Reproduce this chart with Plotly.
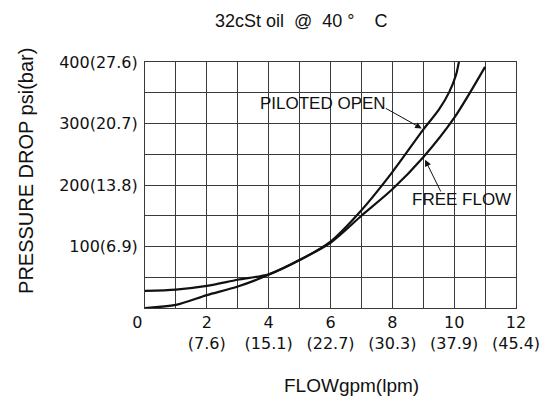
import plotly.graph_objects as go

# Data (flow in gpm, pressure drop in psi)
free_x = [0, 1, 2, 3, 4, 5, 6, 7, 8, 9, 10, 11]
free_y = [0, 5, 21, 35, 54, 78, 106, 150, 193, 245, 309, 392]
pilot_x = [0, 1, 2, 3, 4, 5, 6, 7, 8, 9, 9.5, 9.84, 10.06, 10.16]
pilot_y = [28, 30, 36, 46, 55, 78, 108, 159, 221, 290, 322, 351, 379, 402]

x_tickvals = list(range(0, 13))
x_ticktext = ["0\u00a0\u00a0\u00a0", "", "2<br>(7.6)", "", "4<br>(15.1)", "", "6<br>(22.7)", "",
              "8<br>(30.3)", "", "10<br>(37.9)", "", "12<br>(45.4)"]
y_tickvals = [0, 50, 100, 150, 200, 250, 300, 350, 400]
y_ticktext = ["", "", "100(6.9)", "", "200(13.8)", "", "300(20.7)", "", "400(27.6)"]

INK = "#111"
fig = go.Figure()
fig.add_trace(go.Scatter(x=free_x, y=free_y, mode="lines",
                         line=dict(color=INK, width=2.2, shape="spline", smoothing=0.8),
                         name="FREE FLOW", showlegend=False, cliponaxis=True))
fig.add_trace(go.Scatter(x=pilot_x, y=pilot_y, mode="lines",
                         line=dict(color=INK, width=2.2, shape="spline", smoothing=0.8),
                         name="PILOTED OPEN", showlegend=False, cliponaxis=True))

label_font = dict(family="Liberation Sans", size=17, color=INK)
# labels
fig.add_annotation(x=3.655, y=333, xref="x", yref="y", text="PILOTED OPEN", showarrow=False,
                   xanchor="left", yanchor="middle", font=label_font)
fig.add_annotation(x=8.57, y=176, xref="x", yref="y", text="FREE FLOW", showarrow=False,
                   xanchor="left", yanchor="middle", font=label_font)
# leader arrows
fig.add_annotation(x=8.95, y=292, ax=7.74, ay=326, xref="x", yref="y", axref="x", ayref="y",
                   text="", showarrow=True, arrowhead=2, arrowsize=1.3, arrowwidth=1,
                   arrowcolor=INK, standoff=0)
fig.add_annotation(x=9.06, y=241, ax=9.59, ay=187, xref="x", yref="y", axref="x", ayref="y",
                   text="", showarrow=True, arrowhead=2, arrowsize=1.3, arrowwidth=1,
                   arrowcolor=INK, standoff=0)

# axis titles as positioned text
fig.add_annotation(x=0.369, y=-0.317, xref="paper", yref="paper", text="FLOWgpm(lpm)",
                   showarrow=False, xanchor="left", yanchor="middle",
                   font=dict(family="Liberation Sans", size=19, color=INK))
fig.add_annotation(x=-0.3208, y=0.557, xref="paper", yref="paper", text="PRESSURE DROP psi(bar)",
                   showarrow=False, textangle=-90, xanchor="center", yanchor="middle",
                   font=dict(family="Liberation Sans", size=20, color=INK))

axis_common = dict(showgrid=True, gridcolor="#3a3a3a", gridwidth=1, showline=True,
                   linecolor="#3a3a3a", linewidth=1, mirror=True, zeroline=False,
                   ticks="", automargin=False,
                   tickfont=dict(family="DejaVu Sans", size=16, color=INK))

fig.update_layout(
    width=555, height=398,
    margin=dict(l=145, r=39, t=62, b=90),
    paper_bgcolor="white", plot_bgcolor="white",
    title=dict(text="32cSt oil\u00a0\u00a0@\u00a0\u00a040 °\u00a0\u00a0\u00a0\u00a0C",
               xref="paper", x=0.1887, xanchor="left", yref="container", y=0.947,
               yanchor="middle", font=dict(family="Liberation Sans", size=18, color=INK)),
    xaxis=dict(range=[0, 12], tickmode="array", tickvals=x_tickvals, ticktext=x_ticktext,
               **axis_common),
    yaxis=dict(range=[0, 400], tickmode="array", tickvals=y_tickvals, ticktext=y_ticktext,
               ticklabelstandoff=3, **axis_common),
)

fig.write_html("out.html", config={"displayModeBar": False},
               post_script="document.body.style.margin='0';")
